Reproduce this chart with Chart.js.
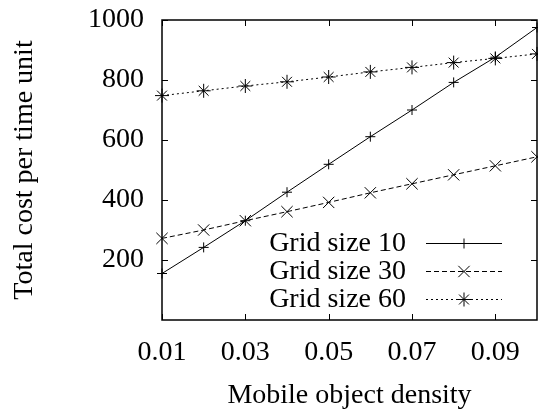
<!DOCTYPE html>
<html>
<head>
<meta charset="utf-8">
<script src="https://cdn.jsdelivr.net/npm/chart.js@4"></script>
<style>
  html, body { margin: 0; padding: 0; background: #fff; overflow: hidden; }
  #wrap { width: 538px; height: 415px; }
</style>
</head>
<body>
<div id="wrap"><canvas id="myChart"></canvas></div>
<script>
// data
const density = [0.01, 0.02, 0.03, 0.04, 0.05, 0.06, 0.07, 0.08, 0.09, 0.1];
const grid10 = [155, 242, 331, 426, 519, 611, 700, 792, 876, 975];
const grid30 = [272, 300, 331, 361, 392, 424, 454, 484, 514, 544];
const grid60 = [748, 764, 780, 794, 810, 827, 842, 858, 872, 887];
const seriesNames = ["Grid size 10", "Grid size 30", "Grid size 60"];
const xTicks = [0.01, 0.03, 0.05, 0.07, 0.09];
const xTickLabels = ["0.01", "0.03", "0.05", "0.07", "0.09"];
const yTicks = [200, 400, 600, 800, 1000];
const yTickLabels = ["200", "400", "600", "800", "1000"];

const FONT = "'Liberation Serif', 'Times New Roman', serif";

function pts(vals) {
  return vals.map((v, i) => ({ x: density[i], y: v }));
}

// frame + inward ticks on all four sides (gnuplot look)
const framePlugin = {
  id: "frame",
  afterDatasetsDraw(chart) {
    const c = chart.ctx, a = chart.chartArea;
    const xs = chart.scales.x, ys = chart.scales.y;
    const len = 6;
    c.save();
    c.strokeStyle = "#000";
    c.lineWidth = 1;
    c.setLineDash([]);
    c.beginPath();
    xTicks.forEach(v => {
      const px = Math.round(xs.getPixelForValue(v)) + 0.5;
      c.moveTo(px, a.bottom); c.lineTo(px, a.bottom - len);
      c.moveTo(px, a.top); c.lineTo(px, a.top + len);
    });
    yTicks.forEach(v => {
      const py = Math.round(ys.getPixelForValue(v)) + 0.5;
      c.moveTo(a.left, py); c.lineTo(a.left + len, py);
      c.moveTo(a.right, py); c.lineTo(a.right - len, py);
    });
    c.stroke();
    c.lineWidth = 1.5;
    c.strokeRect(a.left, a.top, a.right - a.left, a.bottom - a.top);
    c.restore();
  }
};

// key in the lower right, text left of the sample line
const keyPlugin = {
  id: "key",
  afterDatasetsDraw(chart) {
    const c = chart.ctx, a = chart.chartArea;
    const textRight = a.right - 131;
    const lineL = a.right - 111, lineR = a.right - 35;
    const rowY = [243, 271, 299];
    c.save();
    c.font = "28px " + FONT;
    c.textAlign = "right";
    c.textBaseline = "middle";
    chart.data.datasets.forEach((ds, i) => {
      const y = rowY[i];
      c.fillStyle = "#000";
      c.fillText(ds.label, textRight, y + 1);
      c.strokeStyle = "#000";
      c.lineWidth = 1;
      c.setLineDash(ds.borderDash || []);
      c.beginPath();
      c.moveTo(lineL, y + 0.5); c.lineTo(lineR, y + 0.5);
      c.stroke();
      c.setLineDash([]);
      Chart.helpers.drawPoint(c, {
        pointStyle: ds.pointStyle, radius: ds.pointRadius, borderWidth: 1
      }, (lineL + lineR) / 2, y + 0.5);
    });
    c.restore();
  }
};

const ctx = document.getElementById("myChart").getContext("2d");
const myChart = new Chart(ctx, {
  type: "line",
  data: {
    datasets: [
      { label: seriesNames[0], data: pts(grid10), pointStyle: "cross", pointRadius: 5,
        borderDash: [] },
      { label: seriesNames[1], data: pts(grid30), pointStyle: "crossRot", pointRadius: 8,
        borderDash: [5, 3] },
      { label: seriesNames[2], data: pts(grid60), pointStyle: "star", pointRadius: 7,
        borderDash: [2, 3] }
    ].map(d => Object.assign({
      borderColor: "#000", backgroundColor: "#000", borderWidth: 1,
      pointBorderWidth: 1, pointBorderColor: "#000", tension: 0, clip: false
    }, d))
  },
  options: {
    responsive: true,
    maintainAspectRatio: false,
    animation: false,
    events: [],
    layout: { autoPadding: false, padding: { top: 20, right: 1, left: 0, bottom: 0 } },
    plugins: { legend: { display: false }, tooltip: { enabled: false } },
    scales: {
      x: {
        type: "linear", min: 0.01, max: 0.1,
        afterBuildTicks: s => { s.ticks = xTicks.map(v => ({ value: v })); },
        afterFit: s => { s.height = 95; s.paddingLeft = 0; s.paddingRight = 0; },
        grid: { display: false, drawTicks: false },
        border: { display: false },
        ticks: {
          color: "#000", padding: 16, maxRotation: 0, autoSkip: false,
          font: { family: FONT, size: 28 },
          callback: (v, i) => xTickLabels[i]
        },
        title: {
          display: true, text: "Mobile object density", color: "#000",
          font: { family: FONT, size: 28 }, padding: { top: 0, bottom: 3 }
        }
      },
      y: {
        type: "linear", min: 0, max: 1000,
        afterBuildTicks: s => { s.ticks = yTicks.map(v => ({ value: v })); },
        afterFit: s => { s.width = 162; s.paddingTop = 0; s.paddingBottom = 0; },
        grid: { display: false, drawTicks: false },
        border: { display: false },
        ticks: {
          color: "#000", padding: 18, autoSkip: false,
          font: { family: FONT, size: 28 },
          callback: (v, i) => yTickLabels[i]
        },
        title: {
          display: true, text: "Total cost per time unit", color: "#000",
          font: { family: FONT, size: 28 }, padding: { top: 8, bottom: 0 }
        }
      }
    }
  },
  plugins: [framePlugin, keyPlugin]
});
</script>
</body>
</html>
